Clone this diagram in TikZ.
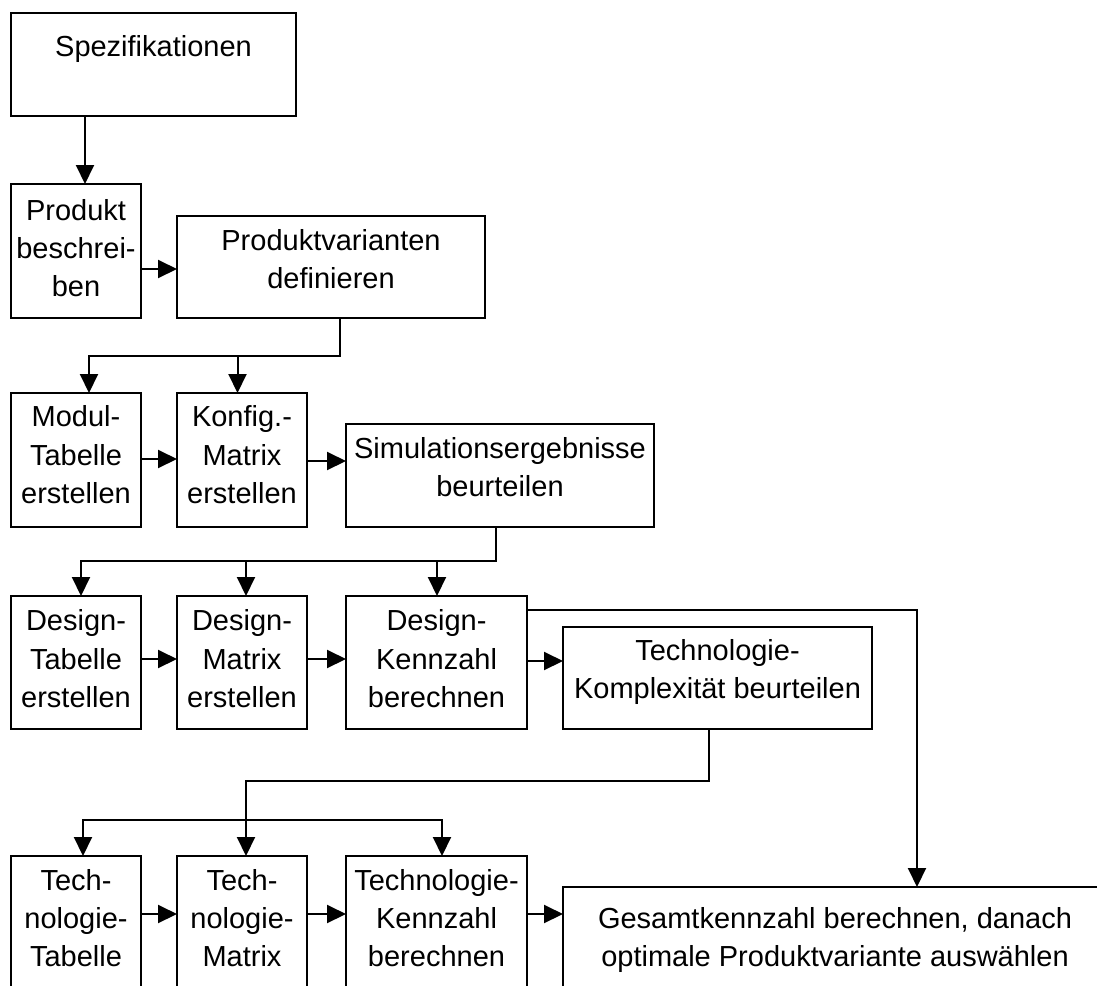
\documentclass[tikz,border=0pt]{standalone}
\usepackage{fontspec}
\setmainfont{Liberation Sans}
\usetikzlibrary{arrows.meta,fit}
\begin{document}
\begin{tikzpicture}[x=1pt,y=-1pt,
  box/.style={draw, line width=2pt, inner sep=0pt, outer sep=0pt},
  % labels are placed by the baseline of their last line
  txt/.style={anchor=base, align=center, inner sep=0pt, font=\fontsize{29pt}{38.3pt}\selectfont},
  flow/.style={line width=2pt},
  arr/.style={flow, -{Triangle[length=19pt,width=18pt]}}]
\useasboundingbox (0,0) rectangle (1097,985);

% process boxes
\node[box, fit={(11,13) (296,116)}] (spez) {};
\node[box, fit={(11,184) (141,318)}] (prod) {};
\node[box, fit={(177,216) (485,318)}] (pvar) {};
\node[box, fit={(11,393) (141,527)}] (modul) {};
\node[box, fit={(177,393) (307,527)}] (konfig) {};
\node[box, fit={(346,424) (654,527)}] (sim) {};
\node[box, fit={(11,596) (141,729)}] (dtab) {};
\node[box, fit={(177,596) (307,729)}] (dmat) {};
\node[box, fit={(346,596) (527,729)}] (dkz) {};
\node[box, fit={(563,627) (872,729)}] (tkomp) {};
\node[box, fit={(11,856) (141,1010)}] (ttab) {};
\node[box, fit={(177,856) (307,1010)}] (tmat) {};
\node[box, fit={(346,856) (527,1010)}] (tkz) {};
\node[box, fit={(563,887) (1110,1010)}] (gesamt) {};

% box labels
\node[txt] (spez-t) at (153.5,56.7) {Spezifikationen};
\node[txt] (prod-t) at (76,296.6) {Produkt\\beschrei-\\ben};
\node[txt] (pvar-t) at (331,288.3) {Produktvarianten\\definieren};
\node[txt] (modul-t) at (76,503.3) {Modul-\\Tabelle\\erstellen};
\node[txt] (konfig-t) at (242,503.3) {Konfig.-\\Matrix\\erstellen};
\node[txt] (sim-t) at (500,496.6) {Simulationsergebnisse\\beurteilen};
\node[txt] (dtab-t) at (76,707.3) {Design-\\Tabelle\\erstellen};
\node[txt] (dmat-t) at (242,707.3) {Design-\\Matrix\\erstellen};
\node[txt] (dkz-t) at (436.5,707.3) {Design-\\Kennzahl\\berechnen};
\node[txt] (tkomp-t) at (717.5,698.3) {Technologie-\\Komplexität beurteilen};
\node[txt] (ttab-t) at (76,966.6) {Tech-\\nologie-\\Tabelle};
\node[txt] (tmat-t) at (242,966.6) {Tech-\\nologie-\\Matrix};
\node[txt] (tkz-t) at (436.5,966.6) {Technologie-\\Kennzahl\\berechnen};
\node[txt] (gesamt-t) at (835,966.6) {Gesamtkennzahl berechnen, danach\\optimale Produktvariante auswählen};

% lanes and junctions of the connectors
\coordinate (a1) at (85,0);
\coordinate (a2) at (89,0);
\coordinate (a3) at (237.5,0);
\coordinate (a4) at (81,0);
\coordinate (a5) at (246,0);
\coordinate (a6) at (437,0);
\coordinate (a7) at (83,0);
\coordinate (a8) at (442,0);
\coordinate (r1) at (0,269);
\coordinate (r2) at (0,459);
\coordinate (r3) at (0,461);
\coordinate (r4) at (0,659);
\coordinate (r5) at (0,661);
\coordinate (r6) at (0,914);
\coordinate (j1) at (340,356);
\coordinate (j2) at (496,561);
\coordinate (j3) at (917,610);
\coordinate (j4) at (709,781);
\coordinate (j5) at (246,820);

% connectors
\draw[arr] (spez.south -| a1) -- (prod.north -| a1);
\draw[arr] (prod.east |- r1) -- (pvar.west |- r1);
\draw[arr] (pvar.south -| j1) -- (j1) -| (modul.north -| a2);
\draw[arr] (j1 -| a3) -- (konfig.north -| a3);
\draw[arr] (modul.east |- r2) -- (konfig.west |- r2);
\draw[arr] (konfig.east |- r3) -- (sim.west |- r3);
\draw[arr] (sim.south -| j2) -- (j2) -| (dtab.north -| a4);
\draw[arr] (j2 -| a5) -- (dmat.north -| a5);
\draw[arr] (j2 -| a6) -- (dkz.north -| a6);
\draw[arr] (dtab.east |- r4) -- (dmat.west |- r4);
\draw[arr] (dmat.east |- r4) -- (dkz.west |- r4);
\draw[arr] (dkz.east |- r5) -- (tkomp.west |- r5);
\draw[arr] (dkz.east |- j3) -- (j3) -- (gesamt.north -| j3);
\draw[arr] (tkomp.south -| j4) -- (j4) -| (tmat.north -| a5);
\draw[arr] (j5) -| (ttab.north -| a7);
\draw[arr] (j5) -| (tkz.north -| a8);
\draw[arr] (ttab.east |- r6) -- (tmat.west |- r6);
\draw[arr] (tmat.east |- r6) -- (tkz.west |- r6);
\draw[arr] (tkz.east |- r6) -- (gesamt.west |- r6);
\end{tikzpicture}
\end{document}
